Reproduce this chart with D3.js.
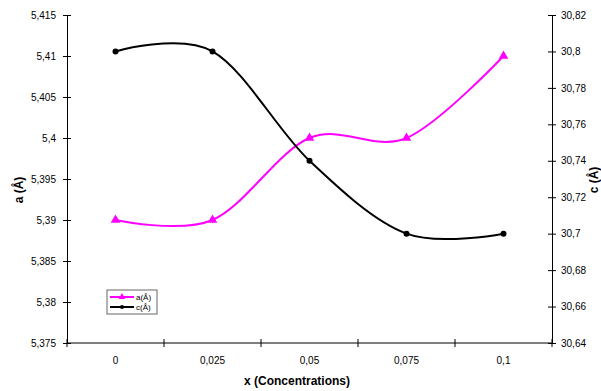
<!DOCTYPE html>
<html>
<head>
<meta charset="utf-8">
<script src="https://cdn.jsdelivr.net/npm/d3@7"></script>
<style>
body { margin: 0; background: #fff; }
text { font-family: "Liberation Sans", Arial, sans-serif; }
</style>
</head>
<body>
<script>
var concentrations = ["0", "0,025", "0,05", "0,075", "0,1"]
var aValues = [5.39, 5.39, 5.40, 5.40, 5.41]
var cValues = [30.80, 30.80, 30.74, 30.70, 30.70]
var aTicks = [5.375, 5.38, 5.385, 5.39, 5.395, 5.4, 5.405, 5.41, 5.415]
var cTicks = [30.64, 30.66, 30.68, 30.70, 30.72, 30.74, 30.76, 30.78, 30.80, 30.82]

var width = 601, height = 391
var plotLeft = 67, plotRight = 552, plotTop = 15, plotBottom = 343

var svg = d3.select("body").append("svg")
	.attr("width", width)
	.attr("height", height)

var x = d3.scaleBand().domain(concentrations).range([plotLeft, plotRight])
var yA = d3.scaleLinear().domain([5.375, 5.415]).range([plotBottom, plotTop])
var yC = d3.scaleLinear().domain([30.64, 30.82]).range([plotBottom, plotTop])

function fmt(d) { return String(+d.toFixed(3)).replace(".", ",") }

// left axis
var gl = svg.append("g").attr("transform", "translate(" + plotLeft + ",0)")
	.call(d3.axisLeft(yA).tickValues(aTicks).tickFormat(fmt).tickSizeInner(4).tickSizeOuter(0).tickPadding(7))
gl.selectAll(".tick line").attr("x2", 4).attr("x1", -4)

// right axis
var gr = svg.append("g").attr("transform", "translate(" + plotRight + ",0)")
	.call(d3.axisRight(yC).tickValues(cTicks).tickFormat(fmt).tickSizeInner(4).tickSizeOuter(0).tickPadding(5))
gr.selectAll(".tick line").attr("x1", -4).attr("x2", 4)

// bottom axis: tick marks at band edges
var gb = svg.append("g").attr("transform", "translate(0," + plotBottom + ")")
gb.append("line").attr("x1", plotLeft).attr("x2", plotRight).attr("stroke", "#000")
var edges = concentrations.map(function(d) { return x(d) }).concat([plotRight])
gb.selectAll(".edge").data(edges).enter().append("line")
	.attr("x1", function(d) { return d }).attr("x2", function(d) { return d })
	.attr("y1", -4).attr("y2", 4).attr("stroke", "#000")
gb.selectAll(".lab").data(concentrations).enter().append("text")
	.attr("x", function(d) { return x(d) + x.bandwidth() / 2 })
	.attr("y", 21)
	.attr("text-anchor", "middle")
	.attr("font-size", 10)
	.attr("fill", "#000")
	.text(function(d) { return d })

svg.selectAll(".domain").attr("stroke", "#000")
svg.selectAll(".tick text").attr("font-size", 10).attr("fill", "#000").attr("font-family", "Liberation Sans, Arial, sans-serif")

// axis titles
svg.append("text").attr("transform", "translate(23,190) rotate(-90)")
	.attr("text-anchor", "middle").attr("font-size", 12).attr("font-weight", "bold").text("a (Å)")
svg.append("text").attr("transform", "translate(598,180) rotate(-90)")
	.attr("text-anchor", "middle").attr("font-size", 12).attr("font-weight", "bold").text("c (Å)")
svg.append("text").attr("x", 297).attr("y", 385)
	.attr("text-anchor", "middle").attr("font-size", 12).attr("font-weight", "bold").text("x (Concentrations)")

var cx = function(d, i) { return x(concentrations[i]) + x.bandwidth() / 2 }

var lineA = d3.line().x(cx).y(function(d) { return yA(d) }).curve(d3.curveCardinal.tension(0))
var lineC = d3.line().x(cx).y(function(d) { return yC(d) }).curve(d3.curveCardinal.tension(0))

svg.append("path").attr("d", lineA(aValues)).attr("fill", "none").attr("stroke", "#ff00ff").attr("stroke-width", 2)
svg.append("path").attr("d", lineC(cValues)).attr("fill", "none").attr("stroke", "#000").attr("stroke-width", 2)

var tri = d3.symbol().type(d3.symbolTriangle).size(40)
svg.selectAll(".ma").data(aValues).enter().append("path")
	.attr("d", tri)
	.attr("transform", function(d, i) { return "translate(" + cx(d, i) + "," + yA(d) + ")" })
	.attr("fill", "#ff00ff")
svg.selectAll(".mc").data(cValues).enter().append("circle")
	.attr("cx", cx).attr("cy", function(d) { return yC(d) })
	.attr("r", 3).attr("fill", "#000")

// legend
var lg = svg.append("g").attr("transform", "translate(107,290)")
lg.append("rect").attr("width", 50).attr("height", 24).attr("fill", "#fff").attr("stroke", "#666").attr("stroke-width", 1)
var legendItems = [{name: "a(Å)", color: "#ff00ff", sym: "tri"}, {name: "c(Å)", color: "#000", sym: "circ"}]
legendItems.forEach(function(d, i) {
	var yy = 7 + i * 10
	lg.append("line").attr("x1", 3).attr("x2", 27).attr("y1", yy).attr("y2", yy).attr("stroke", d.color).attr("stroke-width", 2)
	if (d.sym == "tri") {
		lg.append("path").attr("d", d3.symbol().type(d3.symbolTriangle).size(20)).attr("transform", "translate(15," + yy + ")").attr("fill", d.color)
	} else {
		lg.append("circle").attr("cx", 15).attr("cy", yy).attr("r", 2).attr("fill", d.color)
	}
	lg.append("text").attr("x", 29).attr("y", yy + 3).attr("font-size", 8).attr("fill", "#000").text(d.name)
})
</script>
</body>
</html>
